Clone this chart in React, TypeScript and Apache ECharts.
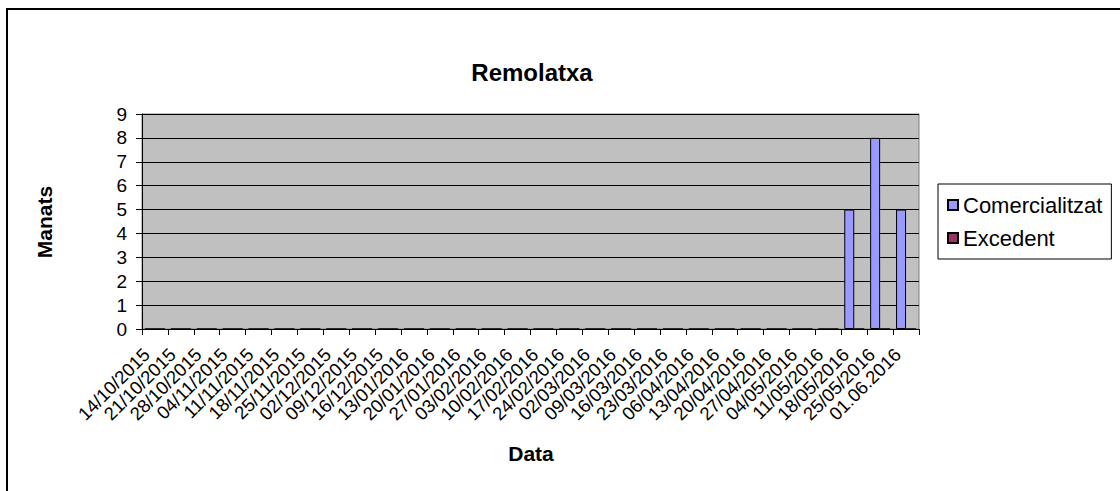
import React, { useEffect, useRef } from "react";
import * as echarts from "echarts";

const categories = [
  "14/10/2015", "21/10/2015", "28/10/2015", "04/11/2015", "11/11/2015",
  "18/11/2015", "25/11/2015", "02/12/2015", "09/12/2015", "16/12/2015",
  "13/01/2016", "20/01/2016", "27/01/2016", "03/02/2016", "10/02/2016",
  "17/02/2016", "24/02/2016", "02/03/2016", "09/03/2016", "16/03/2016",
  "23/03/2016", "06/04/2016", "13/04/2016", "20/04/2016", "27/04/2016",
  "04/05/2016", "11/05/2016", "18/05/2016", "25/05/2016", "01.06.2016",
];

const comercialitzat = [
  0, 0, 0, 0, 0, 0, 0, 0, 0, 0,
  0, 0, 0, 0, 0, 0, 0, 0, 0, 0,
  0, 0, 0, 0, 0, 0, 0, 5, 8, 5,
];

const excedent = [
  0, 0, 0, 0, 0, 0, 0, 0, 0, 0,
  0, 0, 0, 0, 0, 0, 0, 0, 0, 0,
  0, 0, 0, 0, 0, 0, 0, 0, 0, 0,
];

const yTicks = { min: 0, max: 9, interval: 1 };

const FONT = "'Liberation Sans', Arial, Helvetica, sans-serif";

export default function App() {
  const ref = useRef<HTMLDivElement>(null);

  useEffect(() => {
    if (!ref.current) return;
    const chart = echarts.init(ref.current, null, { renderer: "svg" });
    chart.setOption({
      animation: false,
      backgroundColor: "#ffffff",
      textStyle: { fontFamily: FONT, color: "#000" },
      graphic: [
        {
          type: "rect",
          z: -10,
          shape: { x: 7, y: 9, width: 1200, height: 600 },
          style: { fill: "none", stroke: "#000", lineWidth: 2 },
        },
        {
          type: "text",
          x: 532,
          y: 72,
          style: {
            text: "Remolatxa",
            font: `bold 24px ${FONT}`,
            fill: "#000",
            textAlign: "center",
            textVerticalAlign: "middle",
          },
        },
        {
          type: "text",
          x: 44,
          y: 222,
          rotation: Math.PI / 2,
          style: {
            text: "Manats",
            font: `bold 21px ${FONT}`,
            fill: "#000",
            textAlign: "center",
            textVerticalAlign: "middle",
          },
        },
        {
          type: "text",
          x: 531,
          y: 453,
          style: {
            text: "Data",
            font: `bold 21px ${FONT}`,
            fill: "#000",
            textAlign: "center",
            textVerticalAlign: "middle",
          },
        },
      ],
      legend: {
        orient: "vertical",
        left: 938,
        top: 184,
        padding: [10, 9, 10, 9],
        itemWidth: 10,
        itemHeight: 10,
        itemGap: 11,
        icon: "rect",
        borderColor: "#000",
        borderWidth: 1,
        textStyle: { fontSize: 22, color: "#000", fontFamily: FONT },
        data: ["Comercialitzat", "Excedent"],
      },
      grid: {
        left: 142,
        top: 114,
        width: 777,
        height: 215,
        show: true,
        backgroundColor: "#C0C0C0",
        borderColor: "#808080",
        borderWidth: 1,
      },
      xAxis: {
        type: "category",
        data: categories,
        axisLine: { lineStyle: { color: "#000", width: 1 } },
        axisTick: { show: true, length: 6, interval: 0, lineStyle: { color: "#000" } },
        axisLabel: {
          interval: 0,
          rotate: 45,
          margin: 14,
          padding: [0, 12, 0, 0],
          fontSize: 18.5,
          color: "#000",
          fontFamily: FONT,
        },
        splitLine: { show: false },
      },
      yAxis: {
        type: "value",
        min: yTicks.min,
        max: yTicks.max,
        interval: yTicks.interval,
        axisLine: { show: true, lineStyle: { color: "#000", width: 1 } },
        axisTick: { show: true, length: 6, lineStyle: { color: "#000" } },
        axisLabel: { margin: 15, fontSize: 19, color: "#000", fontFamily: FONT },
        splitLine: { show: true, lineStyle: { color: "#000", width: 1 } },
      },
      series: [
        {
          name: "Comercialitzat",
          type: "bar",
          data: comercialitzat,
          barWidth: 10,
          barGap: "0%",
          itemStyle: { color: "#9999FF", borderColor: "#000", borderWidth: 1 },
        },
        {
          name: "Excedent",
          type: "bar",
          data: excedent,
          barWidth: 10,
          barGap: "0%",
          itemStyle: { color: "#993366", borderColor: "#000", borderWidth: 1 },
        },
      ],
    });
    return () => chart.dispose();
  }, []);

  return (
    <div
      ref={ref}
      style={{ position: "absolute", left: 0, top: 0, width: 1120, height: 491, background: "#fff" }}
    />
  );
}
